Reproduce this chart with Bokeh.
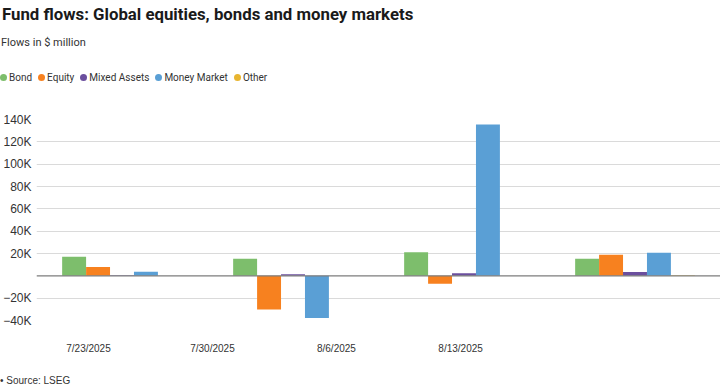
from bokeh.plotting import figure
from bokeh.layouts import column
from bokeh.models import Range1d, FixedTicker, Span, Div
from bokeh.embed import file_html
from bokeh.resources import INLINE

# ---- data ----
dates = ["7/23/2025", "7/30/2025", "8/6/2025", "8/13/2025"]
series_names = ["Bond", "Equity", "Mixed Assets", "Money Market", "Other"]
bond = [17100, 15200, 21100, 15300]
equity = [7800, -30200, -7200, 18900]
mixed_assets = [500, 1500, 2400, 3500]
money_market = [3600, -37700, 135500, 20700]
other = [0, 0, 0, 500]
y_ticks = [-40000, -20000, 0, 20000, 40000, 60000, 80000, 100000, 120000, 140000]
y_tick_labels = ["\u221240K", "\u221220K", "", "20K", "40K", "60K", "80K", "100K", "120K", "140K"]

title_text = "Fund flows: Global equities, bonds and money markets"
subtitle_text = "Flows in $ million"
source_text = "\u2022 Source: LSEG"

# ---- style / layout ----
colors = ["#7dbe6c", "#f7811f", "#6b4f9e", "#5a9fd5", "#e8b530"]
FONT = "Liberation Sans"
TFONT = "Roboto"
W = 720
HEAD_H, MAIN_H, FOOT_H = 112, 250, 26
BL = 36
bar_w = 0.14
date_label_pos = [0.304, 1.029, 1.754, 2.48]

# ---- header: title, subtitle, legend ----
legend_html = "".join(
    f'<span style="display:inline-block;margin-right:6px;white-space:nowrap;">'
    f'<span style="display:inline-block;width:7px;height:7px;border-radius:50%;'
    f'background:{c};margin-right:2px;vertical-align:0px;"></span>{name}</span>'
    for name, c in zip(series_names, colors))
head_html = (
    f'<div style="position:relative;width:{W}px;height:{HEAD_H}px;font-family:{TFONT};color:#333333;">'
    f'<div style="position:absolute;left:2px;top:4px;font-size:16.8px;line-height:20px;font-weight:bold;'
    f'color:#1a1a1a;white-space:nowrap;">{title_text}</div>'
    f'<div style="position:absolute;left:1px;top:36px;font-size:11px;line-height:14px;white-space:nowrap;">'
    f'{subtitle_text}</div>'
    f'<div style="position:absolute;left:0;top:71px;font-size:10px;line-height:14px;white-space:nowrap;">'
    f'{legend_html}</div>'
    f'</div>')
head = Div(text=head_html, width=W, height=HEAD_H, margin=0)

# ---- main chart ----
p = figure(width=W, height=MAIN_H, output_backend="svg", toolbar_location=None,
           x_range=Range1d(0, 4), y_range=Range1d(-40000, 140000),
           min_border_left=BL, min_border_right=0, min_border_top=7, min_border_bottom=42)
p.outline_line_color = None

all_series = [bond, equity, mixed_assets, money_market, other]
for j, vals in enumerate(all_series):
    xs = [i + 0.5 + (j - 2) * bar_w for i in range(len(dates))]
    p.vbar(x=xs, top=vals, bottom=0, width=bar_w, fill_color=colors[j], line_color=None)

p.add_layout(Span(location=0, dimension="width", line_color="#7c7c7c", line_width=1.2))

p.xgrid.visible = False
p.ygrid.ticker = FixedTicker(ticks=[t for t in y_ticks if t != 0])
p.ygrid.grid_line_color = "#dadada"
p.ygrid.grid_line_width = 1.2

ax = p.yaxis[0]
ax.ticker = FixedTicker(ticks=y_ticks)
ax.major_label_overrides = {t: l for t, l in zip(y_ticks, y_tick_labels)}
ax.axis_line_color = None
ax.major_tick_line_color = None
ax.minor_tick_line_color = None
ax.major_tick_out = 0
ax.major_tick_in = 0
ax.minor_tick_out = 0
ax.major_label_standoff = 5
ax.major_label_text_font = FONT
ax.major_label_text_font_size = "12px"
ax.major_label_text_color = "#333333"

xa = p.xaxis[0]
xa.ticker = FixedTicker(ticks=date_label_pos)
xa.major_label_overrides = {pos: d for pos, d in zip(date_label_pos, dates)}
xa.axis_line_color = None
xa.major_tick_line_color = None
xa.minor_tick_line_color = None
xa.major_tick_out = 0
xa.major_tick_in = 0
xa.minor_tick_out = 0
xa.major_label_standoff = 22
xa.major_label_text_font = FONT
xa.major_label_text_font_size = "10px"
xa.major_label_text_color = "#333333"

# ---- footer: source ----
foot_html = (f'<div style="position:relative;width:{W}px;height:{FOOT_H}px;font-family:{FONT};'
             f'color:#333333;"><div style="position:absolute;left:0;top:13px;font-size:10px;'
             f'line-height:12px;white-space:nowrap;">{source_text}</div></div>')
foot = Div(text=foot_html, width=W, height=FOOT_H, margin=0)

layout = column(head, p, foot, spacing=0)
open("out.html", "w").write(file_html(layout, INLINE))
